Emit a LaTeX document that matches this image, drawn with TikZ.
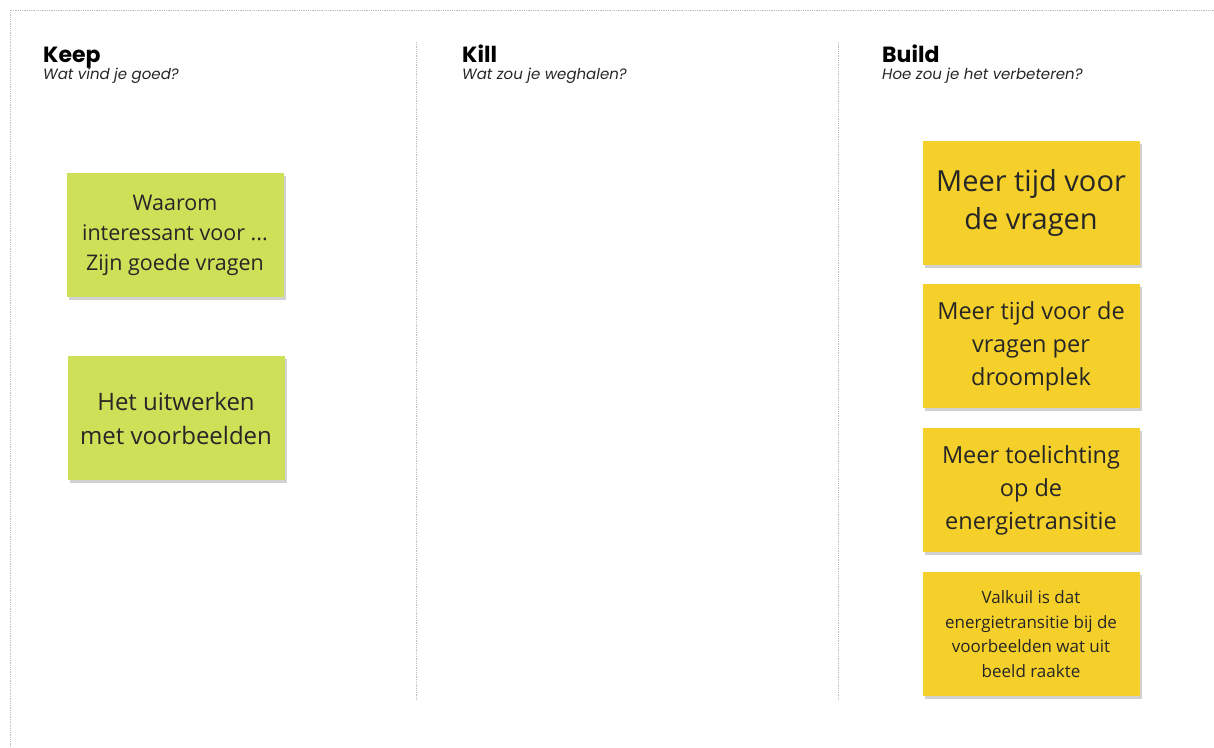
\documentclass[tikz,border=0pt]{standalone}
\usepackage{fontspec}
\setmainfont{Open Sans}
\newfontfamily\headfont{Poppins}
\usetikzlibrary{shadows}

\definecolor{notegreen}{HTML}{CDE058}
\definecolor{noteyellow}{HTML}{F5D02A}
\definecolor{framegray}{HTML}{B8C0C4}

\begin{document}
\begin{tikzpicture}[x=1pt, y=-1pt,
  note/.style={rectangle, minimum width=217pt, minimum height=124pt, inner sep=2pt, align=center, text=black!85, drop shadow={shadow xshift=2pt, shadow yshift=-3pt, opacity=0.18, fill=black}},
  greennote/.style={note, fill=notegreen},
  yellownote/.style={note, fill=noteyellow},
  title/.style={anchor=base west, inner sep=0pt, font=\headfont\bfseries\fontsize{22}{26}\selectfont},
  subtitle/.style={anchor=base west, inner sep=0pt, font=\headfont\itshape\fontsize{15}{18}\selectfont, text=black!85},
  divider/.style={framegray, densely dotted, line width=0.8pt}]

\useasboundingbox (0,0) rectangle (1214,747);

% Frame
\coordinate (ftl) at (10,10);
\coordinate (ftr) at (1214,10);
\coordinate (fbl) at (10,747);
\draw[divider] (fbl) -- (ftl) -- (ftr);

% Column dividers
\coordinate (d1t) at (416,42);
\coordinate (d1b) at (416,700);
\coordinate (d2t) at (838,42);
\coordinate (d2b) at (838,700);
\draw[divider] (d1t) -- (d1b);
\draw[divider] (d2t) -- (d2b);

% Headers
\node[title] (keep) at (43,62) {Keep};
\node[subtitle] (keepq) at (43,79) {Wat vind je goed?};
\node[title] (kill) at (462,62) {Kill};
\node[subtitle] (killq) at (462,79) {Wat zou je weghalen?};
\node[title] (build) at (882,62) {Build};
\node[subtitle] (buildq) at (882,79) {Hoe zou je het verbeteren?};

% Keep notes (green)
\node[greennote, font=\fontsize{21.5}{30}\selectfont] (keepA) at (175,235) {Waarom\\interessant voor ...\\Zijn goede vragen};
\node[greennote, font=\fontsize{24}{34}\selectfont] (keepB) at (176,418) {Het uitwerken\\met voorbeelden};

% Build notes (yellow)
\node[yellownote, font=\fontsize{29}{38}\selectfont] (buildA) at (1031,203) {Meer tijd voor\\de vragen};
\node[yellownote, font=\fontsize{23.5}{33}\selectfont] (buildB) at (1031,346) {Meer tijd voor de\\vragen per\\droomplek};
\node[yellownote, font=\fontsize{23.5}{33}\selectfont] (buildC) at (1031,490) {Meer toelichting\\op de\\energietransitie};
\node[yellownote, font=\fontsize{17}{24.5}\selectfont] (buildD) at (1031,634) {Valkuil is dat\\energietransitie bij de\\voorbeelden wat uit\\beeld raakte};

\end{tikzpicture}
\end{document}
